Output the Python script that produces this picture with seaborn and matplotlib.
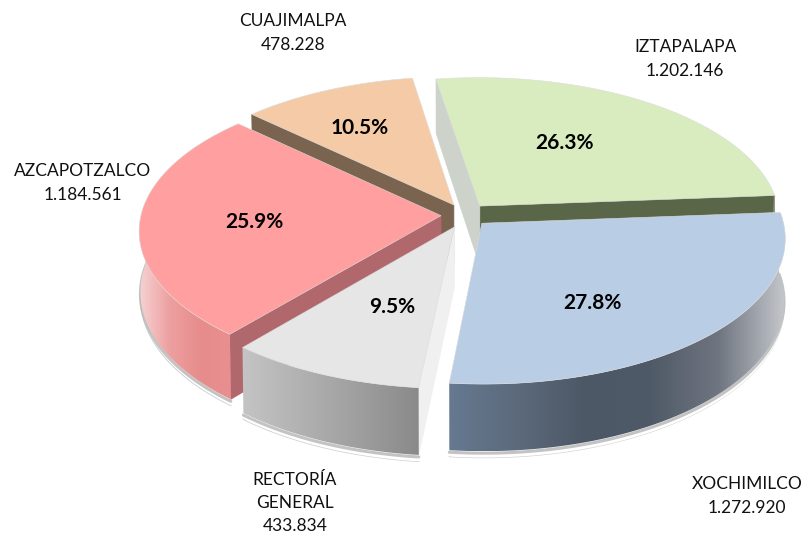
import numpy as np
import matplotlib
matplotlib.use('Agg')
import matplotlib.pyplot as plt
from matplotlib.colors import LinearSegmentedColormap
from matplotlib.patches import Polygon
import seaborn as sns

# draw order is back to front, pie itself goes clockwise from the top
names = ['IZTAPALAPA', 'XOCHIMILCO', 'RECTORÍA\nGENERAL', 'AZCAPOTZALCO', 'CUAJIMALPA']
values = [1202146, 1272920, 433834, 1184561, 478228]

top_colors = ['#d8ecc0', '#b9cde5', '#e6e6e6', '#ff9f9f', '#f4cba6']
# walls of each slice, first the theta1 edge then the theta2 edge
wall_colors = [('#5a6648', '#cdd3ca'), ('#5a6648', '#5a6648'), ('#f0f0f0', '#f0f0f0'),
               ('#b0686c', '#b0686c'), ('#7a6450', '#7a6450')]
side_colors = [['#cdd3ca', '#9aa68a'],
               ['#667990', '#5c6a7c', '#4d5866', '#4f5a68', '#6f7580', '#c5c8cc'],
               ['#c4c4c4', '#a8a8a8', '#8a8a8a'],
               ['#f6d3d3', '#eda0a0', '#e78c8c', '#ea8f8f'],
               ['#c9a585', '#c9a585']]

explode = [0.08, 0.08, 0.09, 0.08, 0.08]
label_xy = [(685, 59), (747, 496), (295, 503), (83, 183), (293, 33)]
pct_xy = [(565, 143), (592, 303), (392, 307), (254, 222), (360, 128)]
order = [4, 0, 3, 2, 1]

cx, cy = 465, 215
rx, ry = 300, 143
depth = 60
tilt = 0.1


def project(x, y, down=0.0):
    # flat pie coordinates to picture pixels, near edge comes out bigger
    w = 1 + tilt * y
    shrink = 1 - 0.004 * down
    return cx + rx * x / w * shrink, cy - ry * y / w + depth * down / w


sns.set_theme(style='white')
plt.rcParams['font.family'] = ['Lato', 'DejaVu Sans']

fig = plt.figure(figsize=(8.08, 5.41), dpi=100)
ax = fig.add_axes([0, 0, 1, 1])
palette = sns.color_palette(top_colors)

wedges, _ = ax.pie(values, startangle=99, counterclock=False, explode=explode, colors=palette)
slices = [(w.center, w.r, w.theta1, w.theta2) for w in wedges]
for w in wedges:
    w.remove()

ax.set_aspect('auto')
ax.set_xlim(0, 808)
ax.set_ylim(541, 0)
ax.axis('off')

z = 2
for i in order:
    (x0, y0), r, t1, t2 = slices[i]
    th = np.radians(np.linspace(t1, t2, 120))
    ux = x0 + r * np.cos(th)
    uy = y0 + r * np.sin(th)

    tx, ty = project(ux, uy)
    bx, by = project(ux, uy, 1)
    ax_t, ay_t = project(x0, y0)
    ax_b, ay_b = project(x0, y0, 1)
    mid = len(th) // 2

    # halo under the slice
    front = uy - y0 < 0.1
    if front.any():
        hx, hy = project(ux[front], uy[front], 1.08)
        ax.plot(hx, hy + 1, color='#d2d2d2', lw=1.0, zorder=z)
        ax.fill_between(hx, hy - 8, hy + 0.5, color='white', lw=0, zorder=z)
        ax.plot(bx[front], by[front] + 2, color='#b5b5b5', lw=2.2, alpha=0.8, zorder=z + 0.1)
    z += 1

    # straight walls, only the ones facing the viewer
    ends = [(tx[0], ty[0], bx[0], by[0]), (tx[-1], ty[-1], bx[-1], by[-1])]
    for k, (ex, ey, fx, fy) in enumerate(ends):
        inside = (ex - ax_t) * (ty[mid] - ay_t) - (ey - ay_t) * (tx[mid] - ax_t)
        down = ex - ax_t
        if inside * down < 0:
            col = wall_colors[i][k]
            ax.add_patch(Polygon([(ax_t, ay_t), (ex, ey), (fx, fy), (ax_b, ay_b)],
                                 fc=col, ec=col, lw=0.5, zorder=z))
            z += 1

    # curved outside with a left to right gradient
    if front.any():
        pts = np.r_[np.c_[tx[front], ty[front]], np.c_[bx[front], by[front]][::-1]]
        cmap = LinearSegmentedColormap.from_list('side%d' % i, side_colors[i])
        left, right = pts[:, 0].min(), pts[:, 0].max()
        im = ax.imshow(np.linspace(0, 1, 256)[None, :], cmap=cmap, aspect='auto',
                       extent=(left, right, pts[:, 1].max(), pts[:, 1].min()), zorder=z)
        im.set_clip_path(Polygon(pts, transform=ax.transData))
        z += 1

    # top face
    ax.add_patch(Polygon(np.r_[[[ax_t, ay_t]], np.c_[tx, ty]], fc=palette[i], ec='#dcdcdc', lw=0.4, zorder=z))
    z += 1

ax.set_xlim(0, 808)
ax.set_ylim(541, 0)

total = sum(values)
for i in range(len(values)):
    txt = names[i] + '\n' + f'{values[i]:,}'.replace(',', '.')
    ax.text(label_xy[i][0], label_xy[i][1], txt, ha='center', va='center', fontsize=12.5,
            color='#111111', linespacing=1.55, zorder=z)
    ax.text(pct_xy[i][0], pct_xy[i][1], '%.1f%%' % (values[i] / total * 100), ha='center', va='center',
            fontsize=15, fontweight='bold', color='black', zorder=z)

fig.savefig('out.png', dpi=100, facecolor='white')
